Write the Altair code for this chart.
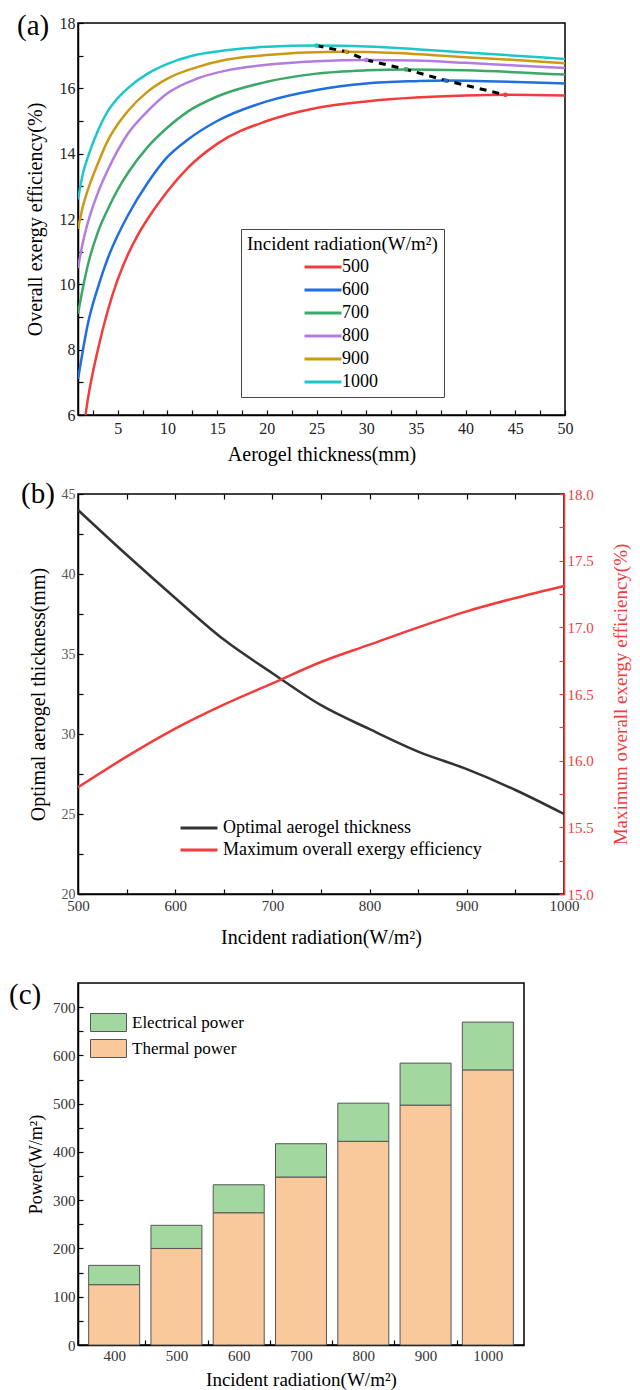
import altair as alt
import pandas as pd

FONT = "Liberation Serif"

# ---------------- (a) overall exergy efficiency vs aerogel thickness ----------------
radiation_levels = ["500", "600", "700", "800", "900", "1000"]
series_colors = ["#f23c3c", "#1f6fe0", "#3aa866", "#b37de0", "#cc9914", "#1cc7c9"]

x_500 = [1.4, 2, 3, 4, 5, 6, 7, 8, 10, 12, 15, 20, 25, 30, 35, 40, 44, 50]
y_500 = [5.2, 6.5, 8.0, 9.2, 10.15, 10.9, 11.5, 12.0, 12.85, 13.55, 14.3, 15.0, 15.4, 15.6, 15.72, 15.78, 15.8, 15.78]
x_600 = [1, 1.5, 2, 3, 4, 5, 6, 8, 10, 12, 15, 20, 25, 30, 35, 38, 42, 50]
y_600 = [7.1, 8.0, 8.8, 9.9, 10.8, 11.5, 12.1, 13.1, 13.9, 14.42, 15.0, 15.6, 15.95, 16.15, 16.22, 16.24, 16.22, 16.15]
x_700 = [1, 1.5, 2, 3, 4, 5, 6, 8, 10, 12, 15, 20, 25, 30, 34, 40, 50]
y_700 = [9.1, 9.9, 10.6, 11.6, 12.3, 12.9, 13.4, 14.2, 14.8, 15.28, 15.75, 16.2, 16.45, 16.55, 16.58, 16.55, 16.42]
x_800 = [1, 1.5, 2, 3, 4, 5, 6, 8, 10, 13, 16, 20, 25, 30, 35, 40, 45, 50]
y_800 = [10.5, 11.3, 11.9, 12.8, 13.5, 14.1, 14.6, 15.3, 15.85, 16.3, 16.55, 16.72, 16.83, 16.87, 16.85, 16.78, 16.7, 16.62]
x_900 = [1, 1.5, 2, 3, 4, 5, 6, 8, 10, 13, 16, 20, 24, 28, 33, 40, 45, 50]
y_900 = [11.7, 12.4, 12.9, 13.7, 14.4, 14.9, 15.3, 15.9, 16.3, 16.65, 16.88, 17.02, 17.1, 17.12, 17.08, 16.95, 16.87, 16.77]
x_1000 = [1, 1.5, 2, 3, 4, 5, 6, 8, 10, 12.5, 15, 20, 25, 30, 35, 40, 45, 50]
y_1000 = [12.6, 13.4, 13.9, 14.7, 15.3, 15.7, 16.0, 16.45, 16.75, 17.0, 17.13, 17.27, 17.31, 17.28, 17.2, 17.1, 17.0, 16.9]

# optimum points (from 1000 down to 500 W/m2)
optimum_thickness = [25, 28, 30, 34, 38, 44]
optimum_eff = [17.31, 17.12, 16.87, 16.58, 16.24, 15.8]
optimum_colors = ["#1cc7c9", "#cc9914", "#b37de0", "#3aa866", "#1f6fe0", "#f23c3c"]

series_x = [x_500, x_600, x_700, x_800, x_900, x_1000]
series_y = [y_500, y_600, y_700, y_800, y_900, y_1000]
rows = []
for lvl, xs, ys in zip(radiation_levels, series_x, series_y):
    for xv, yv in zip(xs, ys):
        rows.append({"radiation": lvl, "thickness": xv, "eff": yv})
df_a = pd.DataFrame(rows)
df_opt = pd.DataFrame({"thickness": optimum_thickness, "eff": optimum_eff, "dot": optimum_colors})

# ---------------- (b) optimum thickness / max efficiency vs radiation ----------------
b_radiation = [500, 550, 600, 650, 700, 750, 800, 850, 900, 950, 1000]
b_thickness = [44.0, 41.2, 38.5, 35.9, 33.8, 31.8, 30.3, 28.9, 27.8, 26.5, 25.0]
b_max_eff = [15.8, 16.03, 16.24, 16.42, 16.58, 16.74, 16.87, 17.0, 17.12, 17.22, 17.31]
b_series = ["Optimal aerogel thickness", "Maximum overall exergy efficiency"]
b_colors = ["#333333", "#f23c3c"]

df_b1 = pd.DataFrame({"radiation": b_radiation, "value": b_thickness, "series": b_series[0]})
df_b2 = pd.DataFrame({"radiation": b_radiation, "value": b_max_eff, "series": b_series[1]})

# ---------------- (c) power stacked bars ----------------
c_radiation = [400, 500, 600, 700, 800, 900, 1000]
thermal_power = [125, 200, 274, 348, 422, 497, 570]
electrical_power = [40, 48, 58, 69, 79, 87, 99]
c_components = ["Electrical power", "Thermal power"]
c_colors = ["#a2d89f", "#f9c89b"]

rows = []
for r, t, e in zip(c_radiation, thermal_power, electrical_power):
    rows.append({"radiation": r, "component": "Thermal power", "power": t, "ord": 0})
    rows.append({"radiation": r, "component": "Electrical power", "power": e, "ord": 1})
df_c = pd.DataFrame(rows)

TICK_IN = {"expr": "-5"}
LINE_SYMBOL = "M-3,0H3"
RECT_SYMBOL = "M-2,-1H2V1H-2Z"


def every(step):
    return f"datum.value % {step} === 0 ? format(datum.value, 'd') : ''"


def panel_label(text, x, y):
    return alt.Chart(pd.DataFrame({"lab": [text]})).mark_text(
        align="left", baseline="alphabetic", font=FONT, fontSize=29, color="black"
    ).encode(text="lab:N", x=alt.value(x), y=alt.value(y))


# ---- panel a ----
Wa, Ha = 487, 392
xa = alt.X("thickness:Q", scale=alt.Scale(domain=[1, 50], nice=False, zero=False),
           axis=alt.Axis(values=[2.5 * i for i in range(1, 21)], labelFlush=False,
                         labelOverlap=False, labelExpr=every(5),
                         tickSize=TICK_IN, labelPadding=10, labelFontSize=16, labelColor="#222",
                         title="Aerogel thickness(mm)", titleFontSize=20,
                         titleX=Wa / 2, titleY=39, titleBaseline="middle", titleAlign="center"))
ya = alt.Y("eff:Q", scale=alt.Scale(domain=[6, 18], nice=False, zero=False),
           axis=alt.Axis(values=list(range(6, 19)), labelFlush=False, labelOverlap=False,
                         labelExpr=every(2),
                         tickSize=TICK_IN, labelPadding=8, labelFontSize=16, labelColor="#222",
                         title="Overall exergy efficiency(%)", titleFontSize=20,
                         titleX=-43, titleY=Ha / 2, titleAngle=270, titleBaseline="middle",
                         titleAlign="center"))

lines_a = alt.Chart(df_a).mark_line(strokeWidth=2.5, interpolate="monotone", clip=True).encode(
    x=xa, y=ya,
    color=alt.Color("radiation:N", sort=radiation_levels,
                    scale=alt.Scale(domain=radiation_levels, range=series_colors),
                    legend=alt.Legend(title="Incident radiation(W/m²)", orient="none",
                                      legendX=163, legendY=206, direction="vertical",
                                      titleFontSize=19, titleFontWeight="normal", titleColor="black",
                                      titleLimit=400,
                                      labelFontSize=18, labelColor="black",
                                      symbolType=LINE_SYMBOL, symbolSize=152, symbolStrokeWidth=3,
                                      symbolOffset=67, labelOffset=10, rowPadding=5,
                                      strokeColor="#444", fillColor="white", padding=6,
                                      titlePadding=4)),
)
dash_a = alt.Chart(df_opt).mark_line(color="black", strokeDash=[7, 6], strokeWidth=3).encode(
    x=xa, y=ya)
dots_a = alt.Chart(df_opt).mark_circle(size=22, opacity=1).encode(
    x=xa, y=ya, color=alt.Color("dot:N", scale=None))
chart_a = alt.layer(lines_a, dash_a, dots_a, panel_label("(a)", -61, 12)).properties(
    width=Wa, height=Ha)

# ---- panel b ----
Wb, Hb = 486, 400
b_xscale = alt.Scale(domain=[500, 1000], nice=False, zero=False)
xb = alt.X("radiation:Q", scale=b_xscale,
           axis=alt.Axis(values=list(range(500, 1001, 50)), labelFlush=False, labelOverlap=False,
                         labelExpr=every(100),
                         tickSize=TICK_IN, labelPadding=9, labelFontSize=15, labelColor="#333",
                         title="Incident radiation(W/m²)", titleFontSize=20,
                         titleX=Wb / 2, titleY=43, titleBaseline="middle", titleAlign="center"))
xb_top = alt.X("radiation:Q", scale=b_xscale,
               axis=alt.Axis(orient="top", values=list(range(550, 1000, 50)), labels=False,
                             domain=False, tickSize=TICK_IN, title=None))
color_b = alt.Color("series:N", sort=b_series, scale=alt.Scale(domain=b_series, range=b_colors),
                    legend=alt.Legend(title=None, orient="none", legendX=112, legendY=325,
                                      labelFontSize=18, labelColor="black",
                                      symbolType=LINE_SYMBOL, symbolSize=152, symbolStrokeWidth=3,
                                      labelOffset=15, rowPadding=4, padding=0, labelLimit=400))
line_b1 = alt.Chart(df_b1).mark_line(strokeWidth=2.5, interpolate="monotone").encode(
    x=xb,
    y=alt.Y("value:Q", scale=alt.Scale(domain=[20, 45], nice=False, zero=False),
            axis=alt.Axis(orient="left", values=[20 + 2.5 * i for i in range(11)], labelFlush=False,
                          labelOverlap=False, labelExpr=every(5),
                          tickSize=TICK_IN, labelPadding=8, labelFontSize=14, labelColor="#555",
                          title="Optimal aerogel thickness(mm)", titleFontSize=20,
                          titleX=-40, titleY=Hb / 2, titleAngle=270, titleBaseline="middle",
                          titleAlign="center")),
    color=color_b)
line_b2 = alt.Chart(df_b2).mark_line(strokeWidth=2.5, interpolate="monotone").encode(
    x=xb_top,
    y=alt.Y("value:Q", scale=alt.Scale(domain=[15, 18], nice=False, zero=False),
            axis=alt.Axis(orient="right", values=[15 + 0.25 * i for i in range(13)], labelFlush=False,
                          labelOverlap=False,
                          labelExpr="(datum.value * 2) % 1 === 0 ? format(datum.value, '.1f') : ''",
                          tickSize=TICK_IN, labelPadding=8, labelFontSize=15, labelColor="#f23c3c",
                          domainColor="#f23c3c", tickColor="#f23c3c", titleColor="#f23c3c",
                          title="Maximum overall exergy efficiency(%)", titleFontSize=19,
                          titleX=56, titleY=Hb / 2, titleAngle=270, titleBaseline="middle",
                          titleAlign="center")),
    color=color_b)
chart_b = alt.layer(line_b1, line_b2, panel_label("(b)", -57, 9)).resolve_scale(
    y="independent").resolve_axis(x="independent").properties(width=Wb, height=Hb)

# ---- panel c ----
Wc, Hc = 446, 362
bars_c = alt.Chart(df_c).mark_bar(size=51, stroke="#555", strokeWidth=1).encode(
    x=alt.X("radiation:Q", scale=alt.Scale(domain=[350, 1050], nice=False, zero=False),
            axis=alt.Axis(values=list(range(400, 1001, 50)), labelFlush=False, labelOverlap=False,
                          labelExpr=every(100),
                          tickSize=TICK_IN, labelPadding=8, labelFontSize=15, labelColor="#333",
                          title="Incident radiation(W/m²)", titleFontSize=19,
                          titleX=Wc / 2, titleY=34, titleBaseline="middle", titleAlign="center")),
    y=alt.Y("power:Q", stack="zero", scale=alt.Scale(domain=[0, 750], nice=False),
            axis=alt.Axis(values=list(range(0, 701, 50)), labelFlush=False, labelOverlap=False,
                          labelExpr=every(100),
                          tickSize=TICK_IN, labelPadding=8, labelFontSize=15, labelColor="#333",
                          title="Power(W/m²)", titleFontSize=18,
                          titleX=-42, titleY=Hc / 2, titleAngle=270, titleBaseline="middle",
                          titleAlign="center")),
    color=alt.Color("component:N", sort=c_components,
                    scale=alt.Scale(domain=c_components, range=c_colors),
                    legend=alt.Legend(title=None, orient="none", legendX=21, legendY=30,
                                      labelFontSize=17, labelColor="black",
                                      symbolType=RECT_SYMBOL, symbolSize=324,
                                      symbolStrokeColor="#555", symbolStrokeWidth=1,
                                      symbolOpacity=1, labelOffset=14, rowPadding=3, padding=0)),
    order=alt.Order("ord:Q"),
)
chart_c = alt.layer(bars_c, panel_label("(c)", -69, 21)).properties(width=Wc, height=Hc)

top = alt.vconcat(chart_a, chart_b, spacing=14).resolve_scale(color="independent")
chart = alt.vconcat(top, chart_c, spacing=32).resolve_scale(color="independent").properties(
    padding={"left": 8, "top": 11, "right": 5, "bottom": 2}, background="white"
).configure_view(stroke="black", strokeWidth=1.5).configure_axis(
    labelFont=FONT, titleFont=FONT, titleFontWeight="normal", titleColor="black",
    domainColor="black", domainWidth=1.5, tickColor="black", tickWidth=1.2, grid=False
).configure_legend(labelFont=FONT, titleFont=FONT)

chart.save("out.html", embed_options={"renderer": "svg", "actions": False})
